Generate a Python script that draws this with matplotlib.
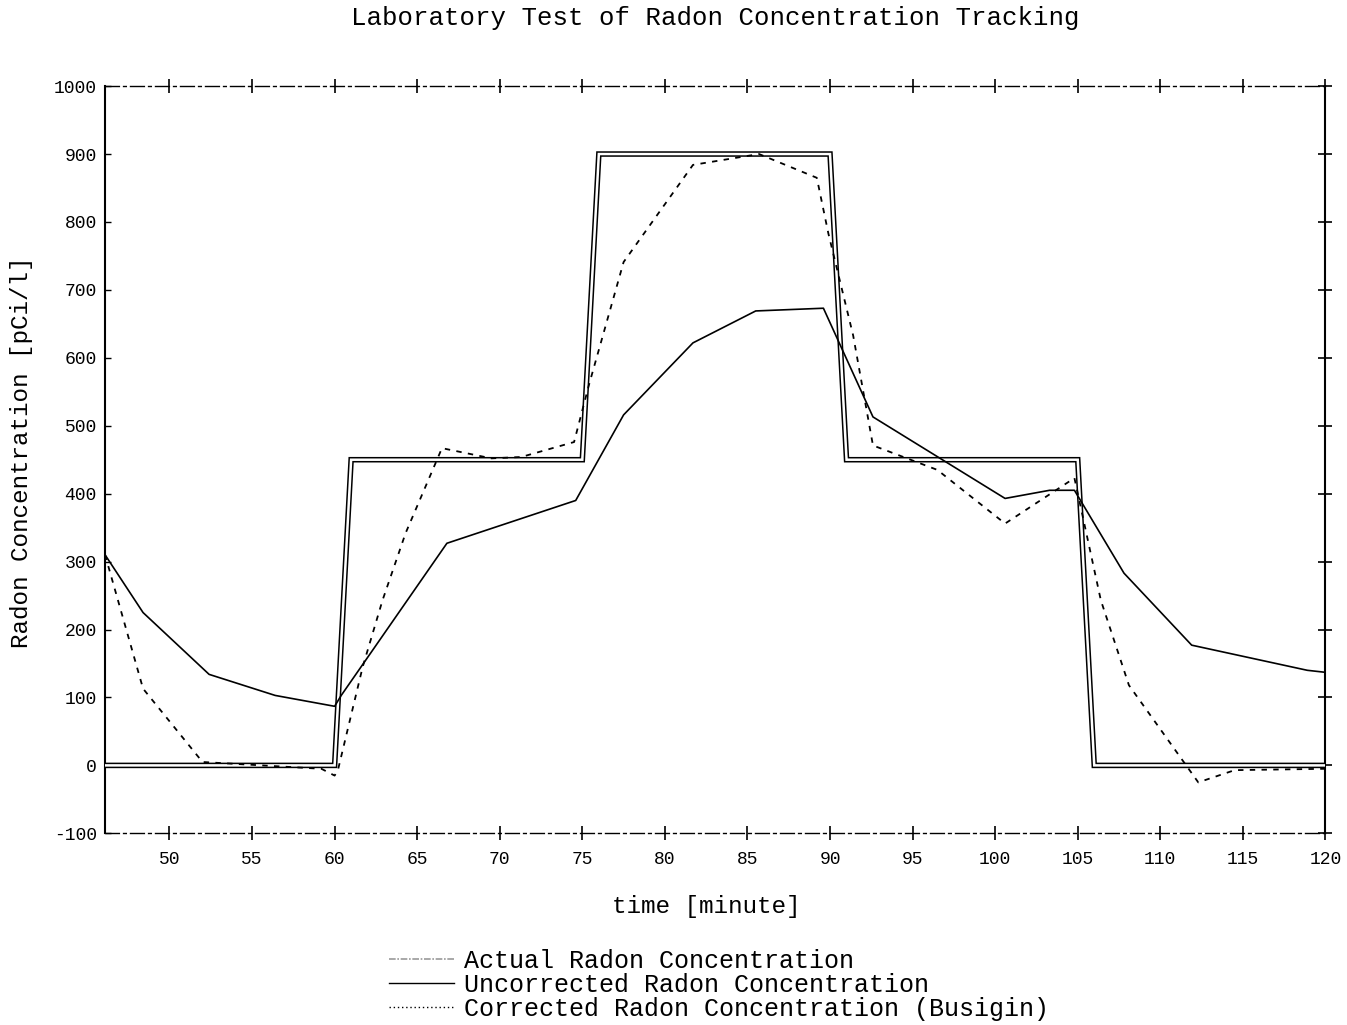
import numpy as np
import matplotlib.pyplot as plt
from matplotlib.lines import Line2D

# Actual radon concentration (step profile)
t_actual = [46.1, 60, 61, 75, 76, 90, 91, 105, 106, 120]
c_actual = [0, 0, 450, 450, 900, 900, 450, 450, 0, 0]

# Uncorrected radon concentration
t_unc = [46.1, 48.4, 52.4, 56.4, 60.0, 60.4, 66.8, 74.6, 77.5, 81.7, 85.5,
         89.6, 92.6, 100.6, 103.3, 104.8, 107.8, 111.9, 118.9, 120]
c_unc = [310, 225, 134, 103, 87, 103, 327, 390, 516, 622, 669,
         673, 513, 393, 405, 405, 283, 177, 140, 137]

# Corrected radon concentration (Busigin)
t_cor = [46.1, 48.4, 52.0, 59.2, 60.0, 60.2, 61.7, 62.9, 64.3, 66.5, 69.5,
         71.3, 74.5, 75.4, 77.5, 81.7, 85.7, 89.2, 89.9, 91.4, 92.6, 96.5,
         100.6, 104.8, 106.4, 108.1, 112.3, 114.5, 120]
c_cor = [310, 113, 5, -5, -15, -7, 145, 243, 342, 467, 452,
         454, 476, 560, 741, 884, 900, 865, 783, 633, 471, 435,
         356, 423, 243, 118, -25, -7, -5]

xticks = [50, 55, 60, 65, 70, 75, 80, 85, 90, 95, 100, 105, 110, 115, 120]
yticks = [-100, 0, 100, 200, 300, 400, 500, 600, 700, 800, 900, 1000]

mono = 'Liberation Mono'

fig = plt.figure(figsize=(13.47, 10.25), dpi=100)
ax = fig.add_axes([0.078, 0.187, 0.906, 0.729])

# double line for the actual concentration
ax.plot(t_actual, c_actual, color='black', lw=4.0, solid_joinstyle='miter', zorder=2)
ax.plot(t_actual, c_actual, color='white', lw=1.8, solid_joinstyle='miter', zorder=3)
ax.plot(t_unc, c_unc, color='black', lw=1.2, zorder=4)
ax.plot(t_cor, c_cor, color='black', lw=1.3, linestyle=(0, (3, 3.5)), zorder=4)

ax.set_xlim(46.1, 120)
ax.set_ylim(-100, 1000)
ax.set_xticks(xticks)
ax.set_yticks(yticks)
ax.set_xticklabels([str(v) for v in xticks], fontfamily=mono, fontsize=13)
ax.set_yticklabels([str(v) for v in yticks], fontfamily=mono, fontsize=13)

ax.tick_params(axis='x', direction='inout', length=10, width=1.2, top=True, pad=8)
ax.tick_params(axis='y', direction='in', length=4, width=1, right=True, pad=6)
for t in ax.yaxis.get_major_ticks():
    t.tick2line.set_marker('_')
    t.tick2line.set_markersize(10)
    t.tick2line.set_markeredgewidth(1.2)

for side in ['top', 'bottom']:
    ax.spines[side].set_linestyle((0, (10, 3, 2, 3)))
    ax.spines[side].set_linewidth(1.0)
for side in ['left', 'right']:
    ax.spines[side].set_linewidth(1.5)

fig.text(0.531, 1 - 18 / 1025, 'Laboratory Test of Radon Concentration Tracking',
         fontfamily=mono, fontsize=18.5, ha='center', va='center')
fig.text(0.524, 1 - 906 / 1025, 'time [minute]',
         fontfamily=mono, fontsize=17.5, ha='center', va='center')
fig.text(22 / 1347, 1 - 452 / 1025, 'Radon Concentration [pCi/l]',
         fontfamily=mono, fontsize=17.5, ha='center', va='center', rotation=90)

handles = [
    Line2D([], [], color='0.6', lw=1.2, linestyle=(0, (4, 1, 1, 1))),
    Line2D([], [], color='black', lw=1.0),
    Line2D([], [], color='black', lw=1.0, linestyle=(0, (1, 2))),
]
labels = ['Actual Radon Concentration',
          'Uncorrected Radon Concentration',
          'Corrected Radon Concentration (Busigin)']
fig.legend(handles, labels, loc='lower left', bbox_to_anchor=(0.272, -0.018),
           frameon=False, prop={'family': mono, 'size': 18},
           handlelength=2.6, handletextpad=0.4, labelspacing=0.0)

fig.savefig('out.png', dpi=100)
